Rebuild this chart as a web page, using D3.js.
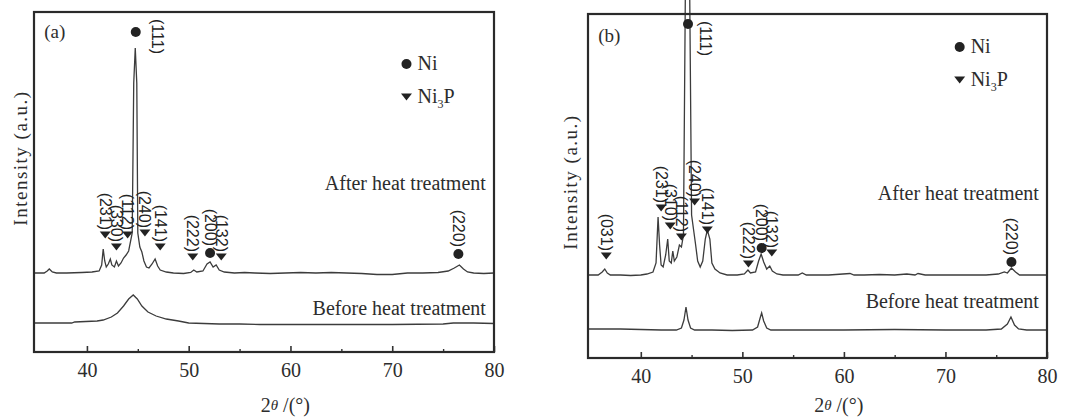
<!DOCTYPE html>
<html>
<head>
<meta charset="utf-8">
<script src="https://cdn.jsdelivr.net/npm/d3@7/dist/d3.min.js"></script>
<style>
  body { margin: 0; background: #fff; }
  text { fill: #2d2d2d; }
</style>
</head>
<body>
<div id="chart"></div>
<script>
// x axis ticks (2 theta, degrees)
var xTicks = [40, 50, 60, 70, 80];
var xMinorTicks = [45, 55, 65, 75];

// patterns: [2theta, intensity above the pattern's own baseline]
var afterA = [
  [34.8, 0], [35.8, 0], [36.1, 2], [36.3, 4], [36.6, 1], [37.0, 0], [38.0, 0], [39.5, 0.5],
  [40.5, 1], [41.2, 2], [41.45, 8], [41.6, 24], [41.75, 12], [41.9, 6], [42.1, 9], [42.3, 14],
  [42.45, 8], [42.7, 6], [42.9, 12], [43.1, 7], [43.35, 10], [43.6, 15], [43.85, 18], [44.1, 22],
  [44.45, 40], [44.6, 190], [44.75, 225], [44.9, 190], [45.0, 40], [45.2, 26], [45.4, 21],
  [45.6, 12], [45.85, 6], [46.1, 5], [46.4, 9], [46.7, 14], [46.95, 7], [47.2, 3], [47.8, 1],
  [48.5, 0], [49.5, -0.5], [50.2, 0.5], [50.5, 3], [50.8, 1], [51.4, 2], [51.8, 9], [52.1, 11],
  [52.4, 6], [52.7, 8], [53.0, 3], [53.5, 1], [54.5, 0], [55.5, 0.5], [56.5, 0], [58, -0.5],
  [59.5, 0], [61, 0.5], [62.5, 0], [64, 0.5], [65.5, 0], [67, -0.5], [68.5, -1.5], [70, -1.5],
  [71.5, 0], [73, 0], [74.5, 0.5], [75.5, 2], [76.1, 5], [76.6, 8], [77.0, 4], [77.4, 1],
  [78, 0], [79, -0.5], [80, 0]
];
var beforeA = [
  [34.8, 1], [38.5, 1], [38.8, 2], [41.0, 3], [41.6, 4], [42.4, 7], [43.0, 11], [43.6, 18],
  [44.1, 25], [44.55, 29], [44.95, 25], [45.4, 18], [46.0, 12], [46.8, 8], [47.8, 5], [49.0, 3],
  [50.0, 1], [51.5, 0.5], [53, 0], [55, 0], [57, -0.5], [60, -0.5], [65, -0.5], [70, -0.5],
  [75, 0], [76, 1], [78, 1], [80, 0.5]
];
var afterB = [
  [34.8, 0], [35.8, 0], [36.2, 3], [36.45, 6], [36.7, 2], [37.0, 0], [38.0, 0], [39.0, -0.5],
  [40.0, 0], [40.6, 1], [41.2, 3], [41.5, 12], [41.7, 58], [41.85, 30], [42.0, 10], [42.2, 8],
  [42.45, 20], [42.65, 36], [42.8, 14], [43.0, 12], [43.15, 24], [43.3, 14], [43.55, 18],
  [43.8, 30], [44.0, 28], [44.2, 40], [44.4, 300], [44.6, 430], [44.8, 300], [45.0, 60],
  [45.2, 45], [45.4, 30], [45.6, 14], [45.85, 8], [46.1, 14], [46.35, 36], [46.55, 45],
  [46.8, 36], [47.0, 12], [47.3, 6], [47.8, 2], [48.5, 0], [49.5, 0], [50.2, 1], [50.55, 5],
  [50.8, 2], [51.3, 3], [51.6, 14], [51.85, 21], [52.1, 13], [52.4, 6], [52.7, 9], [52.95, 4],
  [53.4, 1], [54, 0], [55.5, 0], [55.9, 2], [56.3, 0], [58.5, 0], [60.6, 1.5], [61.0, 0],
  [62, 0], [63.5, 0.5], [65, 0], [66.2, 1], [67, 0], [67.3, 1.5], [68, 0], [70, 0], [72, 0],
  [74, 0], [75.2, 1], [75.8, 3], [76.1, 2], [76.5, 7], [76.9, 3], [77.3, 0], [78.5, 0], [80, 0]
];
var beforeB = [
  [34.8, 1], [38, 1], [40, 0.5], [42, 0], [43.5, 0], [44.0, 2], [44.25, 10], [44.45, 23],
  [44.65, 10], [44.9, 2], [45.3, 0], [47, 0], [49, -0.5], [51, 0], [51.5, 3], [51.75, 12],
  [51.9, 17], [52.1, 9], [52.4, 2], [52.8, 0], [55, 0], [60, 0], [65, 0.5], [70, 0], [74, 0],
  [75.5, 1], [76.1, 6], [76.45, 13], [76.8, 5], [77.2, 1], [78, 0], [80, 0]
];

// indexed reflections: [phase, hkl, 2theta, marker level]
var peaksA = [
  ['Ni', '(111)', 44.8, 320],
  ['Ni3P', '(231)', 41.8, 117],
  ['Ni3P', '(330)', 42.9, 105],
  ['Ni3P', '(112)', 44.0, 117],
  ['Ni3P', '(240)', 45.7, 119],
  ['Ni3P', '(141)', 47.2, 105],
  ['Ni3P', '(222)', 50.4, 95],
  ['Ni', '(200)', 52.1, 99],
  ['Ni3P', '(132)', 53.2, 95],
  ['Ni', '(220)', 76.5, 98]
];
var peaksB = [
  ['Ni', '(111)', 44.65, 334],
  ['Ni3P', '(031)', 36.6, 102],
  ['Ni3P', '(231)', 42.0, 150],
  ['Ni3P', '(310)', 42.9, 132],
  ['Ni3P', '(112)', 44.0, 121],
  ['Ni3P', '(240)', 45.3, 156],
  ['Ni3P', '(141)', 46.55, 128],
  ['Ni3P', '(222)', 50.6, 94],
  ['Ni', '(200)', 51.9, 110],
  ['Ni3P', '(132)', 52.9, 105],
  ['Ni', '(220)', 76.5, 96]
];

var phases = ['Ni', 'Ni3P'];
var sampleNames = ['After heat treatment', 'Before heat treatment'];

var panels = [
  { tag: '(a)', after: afterA, before: beforeA, peaks: peaksA,
    left: 34, right: 494, top: 12, bottom: 352, afterBase: 79, beforeBase: 28,
    afterTextY: 190, beforeTextY: 315, ylabelX: 27, ylabelY: 158, legendY: 64, tagY: 38, topLabelDx: 22 },
  { tag: '(b)', after: afterB, before: beforeB, peaks: peaksB,
    left: 588, right: 1047, top: 14, bottom: 358, afterBase: 83, beforeBase: 28,
    afterTextY: 200, beforeTextY: 308, ylabelX: 577, ylabelY: 182, legendY: 47, tagY: 42, topLabelDx: 17 }
];

var svg = d3.select('#chart')
  .append('svg')
  .attr('width', 1065)
  .attr('height', 420)
  .style('font-family', '"Liberation Serif", "Times New Roman", serif');

var trianglePath = 'M-5.5,-3.5L5.5,-3.5L0,3.5Z';

panels.forEach(function(p) {
  var x = d3.scaleLinear().domain([34.8, 80]).range([p.left, p.right]);
  var y = d3.scaleLinear().domain([0, p.bottom - p.top]).range([p.bottom, p.top]);
  var g = svg.append('g');

  // ticks inside the frame, bottom only
  g.append('g')
    .attr('transform', 'translate(0,' + p.bottom + ')')
    .call(d3.axisBottom(x).tickValues(xTicks).tickSizeInner(-6).tickSizeOuter(0).tickPadding(11))
    .call(function(a) {
      a.select('.domain').remove();
      a.selectAll('line').attr('stroke', '#333').attr('stroke-width', 1.6);
      a.selectAll('text')
        .style('font-family', '"Liberation Serif", serif')
        .style('font-size', '20px')
        .attr('fill', '#333');
    });
  g.append('g')
    .attr('transform', 'translate(0,' + p.bottom + ')')
    .call(d3.axisBottom(x).tickValues(xMinorTicks).tickSizeInner(-3).tickSizeOuter(0).tickFormat(''))
    .call(function(a) {
      a.select('.domain').remove();
      a.selectAll('line').attr('stroke', '#333').attr('stroke-width', 1.4);
    });

  var line = function(base) {
    return d3.line()
      .x(function(d) { return x(d[0]); })
      .y(function(d) { return y(base + d[1]); });
  };

  g.append('path')
    .datum(p.before)
    .attr('d', line(p.beforeBase))
    .attr('fill', 'none')
    .attr('stroke', '#3c3c3c')
    .attr('stroke-width', 1.3);

  g.append('path')
    .datum(p.after)
    .attr('d', line(p.afterBase))
    .attr('fill', 'none')
    .attr('stroke', '#3c3c3c')
    .attr('stroke-width', 1.3);

  // frame
  g.append('rect')
    .attr('x', p.left)
    .attr('y', p.top)
    .attr('width', p.right - p.left)
    .attr('height', p.bottom - p.top)
    .attr('fill', 'none')
    .attr('stroke', '#2a2a2a')
    .attr('stroke-width', 2.2);

  // peak markers
  var mk = g.append('g').selectAll('g')
    .data(p.peaks)
    .enter()
    .append('g')
    .attr('transform', function(d) { return 'translate(' + x(d[2]) + ',' + y(d[3]) + ')'; });

  mk.filter(function(d) { return d[0] === 'Ni'; })
    .append('circle')
    .attr('r', 5)
    .attr('fill', '#222');
  mk.filter(function(d) { return d[0] === 'Ni3P'; })
    .append('path')
    .attr('d', trianglePath)
    .attr('fill', '#222');

  // hkl labels, read top to bottom; the strong Ni(111) label sits beside its marker
  var isTop = function(d) { return d[0] === 'Ni' && d[1] === '(111)'; };
  mk.append('text')
    .attr('transform', function(d) {
      if (isTop(d)) return 'translate(' + p.topLabelDx + ',' + (p.top + 7 - y(d[3])) + ') rotate(90)';
      return 'translate(0,' + (d[0] === 'Ni' ? -7 : -5) + ') rotate(90)';
    })
    .attr('text-anchor', function(d) { return isTop(d) ? 'start' : 'end'; })
    .attr('dominant-baseline', 'central')
    .style('font-family', '"Liberation Sans", Arial, sans-serif')
    .style('font-size', '16px')
    .style('fill', '#222')
    .text(function(d) { return d[1]; });

  // panel tag
  g.append('text')
    .attr('x', x(35.8))
    .attr('y', p.tagY)
    .style('font-size', '19px')
    .text(p.tag);

  // legend
  var lg = g.append('g').selectAll('g')
    .data(phases)
    .enter()
    .append('g')
    .attr('transform', function(d, i) { return 'translate(' + x(71.4) + ',' + (p.legendY + i * 33) + ')'; });
  lg.filter(function(d) { return d === 'Ni'; })
    .append('circle').attr('r', 5).attr('fill', '#222');
  lg.filter(function(d) { return d === 'Ni3P'; })
    .append('path').attr('d', trianglePath).attr('fill', '#222');
  var lt = lg.append('text')
    .attr('x', 11)
    .attr('y', 6)
    .style('font-size', '20px');
  lt.append('tspan').text('Ni');
  lt.filter(function(d) { return d === 'Ni3P'; })
    .append('tspan').attr('dy', 5).style('font-size', '12px').text('3');
  lt.filter(function(d) { return d === 'Ni3P'; })
    .append('tspan').attr('dy', -5).text('P');

  // sample names
  g.append('text')
    .attr('x', x(79.2))
    .attr('y', p.afterTextY)
    .attr('text-anchor', 'end')
    .style('font-size', '20px')
    .text(sampleNames[0]);
  g.append('text')
    .attr('x', x(79.2))
    .attr('y', p.beforeTextY)
    .attr('text-anchor', 'end')
    .style('font-size', '20px')
    .text(sampleNames[1]);

  // axis titles
  g.append('text')
    .attr('transform', 'translate(' + p.ylabelX + ',' + p.ylabelY + ') rotate(-90)')
    .attr('text-anchor', 'middle')
    .style('font-size', '19px')
    .style('letter-spacing', '1.5px')
    .text('Intensity (a.u.)');

  var xt = g.append('text')
    .attr('x', x(59.5))
    .attr('y', 412)
    .attr('text-anchor', 'middle')
    .style('font-size', '20px');
  xt.append('tspan').text('2');
  xt.append('tspan').style('font-style', 'italic').style('font-size', '15px').attr('dy', -2).text('\u03b8');
  xt.append('tspan').attr('dy', 2).text(' /(\u00b0)');
});
</script>
</body>
</html>
